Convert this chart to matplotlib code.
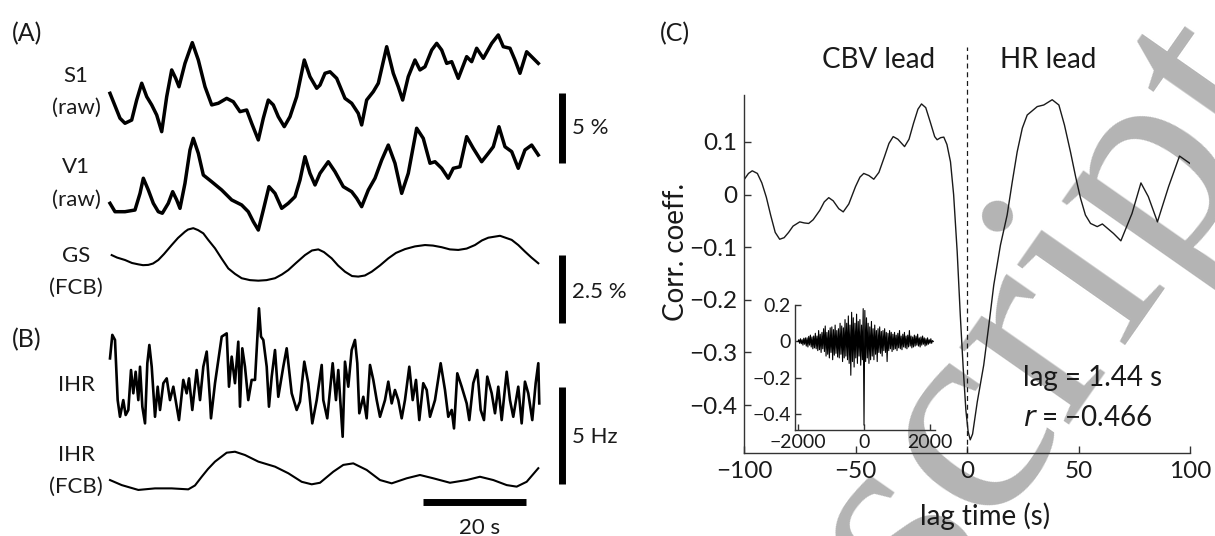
import numpy as np
import matplotlib
matplotlib.use("Agg")
import matplotlib.pyplot as plt

plt.rcParams['font.family'] = ['Lato', 'DejaVu Sans']

# ---- (A) raw CBV traces, time in s, signal in % ----
s1_t = [0.00, 1.94, 2.91, 4.21, 5.18, 6.16, 7.13, 8.10, 9.07, 10.04, 11.01, 11.98, 12.76,
        13.40, 14.56, 15.98, 17.15, 18.45, 19.75, 21.03, 22.66, 23.94, 25.24, 26.54, 27.51,
        28.80, 29.77, 30.74, 31.71, 32.68, 33.84, 34.95, 36.25, 37.73, 38.83, 40.14, 40.78,
        41.75, 42.72, 44.02, 45.63, 46.93, 48.21, 48.87, 49.84, 51.13, 52.10, 53.73, 55.01,
        55.98, 56.83, 57.92, 59.22, 60.19, 61.17, 62.47, 63.44, 64.41, 65.38, 66.35, 67.63,
        69.26, 70.23, 71.20, 72.49, 74.12, 75.40, 76.37, 77.67, 78.64, 79.61, 80.91, 82.19, 83.17]
s1_v = [0.12, -1.66, -2.02, -1.79, -0.36, 0.84, -0.12, -0.71, -1.43, -2.62, -0.12, 1.79, 1.19,
        0.59, 2.26, 3.74, 2.50, 0.59, -0.71, -0.59, -0.24, -0.48, -1.19, -1.07, -2.02,
        -3.21, -1.66, -0.36, -0.71, -1.55, -2.26, -1.55, -0.12, 2.50, 1.31, 0.48, 0.71,
        1.55, 1.66, 1.19, -0.24, -0.59, -1.31, -2.14, -0.36, 0.24, 0.84, 3.45, 1.55,
        0.59, -0.36, 1.31, 2.50, 1.79, 2.02, 3.21, 3.69, 3.21, 2.26, 2.38, 1.19,
        2.74, 2.38, 3.34, 2.62, 3.69, 4.29, 3.45, 3.34, 2.50, 1.55, 3.09, 2.62, 2.26]

v1_t = [0.00, 0.97, 2.91, 4.85, 5.83, 6.47, 7.44, 8.41, 9.38, 10.16, 11.32, 12.17, 12.95,
        13.59, 14.56, 15.53, 16.17, 17.15, 18.12, 19.75, 21.69, 23.63, 25.57, 26.85, 27.83,
        28.80, 29.77, 30.87, 32.04, 33.34, 34.62, 35.92, 36.89, 37.86, 38.83, 39.81, 40.78,
        42.39, 43.69, 45.30, 46.93, 47.90, 48.87, 50.16, 51.46, 52.76, 54.04, 55.34, 56.64,
        57.92, 59.55, 60.83, 62.14, 63.11, 64.41, 65.69, 66.66, 67.96, 69.26, 70.54, 72.17,
        73.46, 74.43, 75.53, 76.70, 78.00, 79.28, 80.58, 81.88, 83.17]
v1_v = [-0.95, -1.55, -1.55, -1.43, -0.24, 0.84, 0.00, -0.95, -1.55, -1.66, -0.95, -0.12, -0.71,
        -1.31, 0.48, 2.86, 3.69, 2.62, 1.07, 0.59, 0.00, -0.71, -1.07, -1.55, -2.26,
        -2.86, -1.43, 0.24, -0.24, -1.31, -0.95, -0.48, 0.71, 2.38, 1.19, 0.36, 1.19,
        2.02, 1.31, 0.24, -0.12, -0.59, -1.19, 0.00, 0.84, 2.14, 3.21, 1.91, -0.24,
        1.19, 4.41, 3.69, 1.91, 2.02, 1.55, 0.84, 1.55, 1.66, 3.81, 2.98, 2.02,
        2.62, 3.09, 4.52, 3.09, 2.74, 1.55, 2.86, 3.21, 2.50]

# global signal after band-pass (%)
gs_t = [0.33, 1.36, 2.91, 4.27, 5.50, 6.41, 7.44, 8.35, 9.38, 10.49, 11.98, 13.20, 14.56,
        15.15, 16.17, 17.09, 18.12, 19.03, 20.39, 21.65, 22.97, 24.27, 25.57, 27.18, 28.80,
        30.39, 32.04, 33.40, 34.62, 36.12, 37.86, 39.22, 40.45, 41.55, 43.05, 44.27, 45.63,
        47.00, 48.21, 49.50, 50.82, 52.43, 54.04, 55.53, 57.28, 59.22, 61.17, 62.72, 64.41,
        66.00, 67.63, 69.26, 70.87, 72.23, 73.46, 75.73, 78.00, 79.28, 80.58, 81.84, 83.17]
gs_v = [0.18, 0.09, 0.00, -0.11, -0.16, -0.19, -0.18, -0.13, 0.00, 0.22, 0.55, 0.81, 1.04,
        1.12, 1.17, 1.10, 0.98, 0.75, 0.43, 0.06, -0.31, -0.51, -0.67, -0.74, -0.76,
        -0.74, -0.67, -0.53, -0.37, -0.11, 0.18, 0.35, 0.39, 0.29, 0.06, -0.20, -0.43,
        -0.59, -0.61, -0.57, -0.43, -0.20, 0.06, 0.26, 0.40, 0.50, 0.55, 0.53, 0.47,
        0.39, 0.37, 0.42, 0.55, 0.72, 0.82, 0.89, 0.74, 0.55, 0.31, 0.09, -0.12]

# ---- (B) instantaneous heart rate (Hz) ----
ihr_t = [0.00, 0.45, 0.97, 1.49, 1.94, 2.58, 3.04, 3.56, 4.08, 4.53, 4.98, 5.50, 5.83, 6.28,
         6.80, 7.25, 7.64, 8.10, 8.74, 9.26, 9.71, 10.36, 11.01, 11.65, 12.30, 12.95, 13.40,
         14.23, 14.89, 15.34, 15.98, 16.83, 17.48, 18.12, 18.78, 19.42, 19.61, 20.39, 21.03,
         21.69, 22.66, 23.11, 23.63, 24.27, 24.91, 25.24, 25.69, 26.21, 26.85, 27.51, 28.16,
         28.93, 29.32, 29.77, 30.43, 30.87, 31.40, 32.04, 32.68, 33.65, 34.31, 35.28, 36.25,
         36.89, 37.73, 38.50, 39.28, 40.14, 41.11, 41.42, 42.19, 43.24, 43.88, 44.33, 45.18,
         45.63, 46.27, 46.93, 47.57, 48.02, 48.41, 49.19, 49.84, 50.49, 51.13, 51.79, 52.43,
         53.40, 54.04, 54.70, 55.34, 55.98, 56.64, 57.28, 58.12, 58.78, 59.42, 60.06, 60.83,
         61.50, 62.14, 63.11, 64.21, 65.05, 65.69, 66.35, 66.80, 67.44, 68.29, 69.26, 69.77,
         70.54, 71.32, 71.98, 72.62, 73.26, 74.12, 74.76, 75.40, 76.06, 77.03, 77.67, 78.31,
         79.28, 79.94, 80.58, 81.22, 82.00, 82.66, 83.17, 83.36]
ihr_v = [1.63, 2.84, 2.58, -0.52, -1.38, -0.52, -1.29, -1.03, 1.03, -0.17, 0.94, -0.52, 1.20, -0.86,
         -1.72, 1.38, 2.32, 1.20, -1.38, 0.17, -1.03, 0.35, 0.60, -0.52, 0.17, -0.86, -1.55,
         0.52, -0.17, 0.60, -1.03, 1.03, -0.52, 1.20, 1.98, -0.52, -1.46, 0.35, 1.55,
         2.75, 2.92, 0.17, 1.72, 0.35, 2.49, -0.86, 2.15, 1.20, -0.52, 0.52, 0.52,
         4.21, 2.75, 2.58, 1.20, -0.86, 0.69, 2.06, -0.35, 1.20, 2.15, -0.17, -1.03,
         -0.60, 1.46, 0.35, -1.72, -0.52, 1.29, -0.52, -1.46, 1.38, -0.52, 1.03, -2.41,
         1.46, 0.17, 2.06, 2.58, 1.38, -1.20, -0.35, -1.46, 1.29, 0.52, -0.52, -1.38,
         -0.52, 0.43, -0.69, 0.00, -0.52, -1.46, -0.52, 1.20, -0.52, 0.52, -1.55, 0.35,
         0.00, -1.38, -0.52, 1.38, 0.00, -1.38, -1.03, -1.98, 0.86, 0.17, -0.69, -1.55,
         0.35, 1.03, -1.03, -1.55, 0.69, -0.17, -1.20, 0.17, -1.55, 0.94, -0.52, -1.38,
         0.17, -1.72, 0.43, -0.17, -1.55, 0.35, 1.38, -0.69]

ihr_fcb_t = [0.00, 2.27, 5.50, 8.74, 11.98, 15.20, 16.50, 17.81, 19.03, 20.39, 22.66, 24.27,
             26.21, 28.80, 32.04, 34.62, 37.22, 39.17, 40.78, 43.36, 45.30, 47.24, 49.84,
             52.43, 54.70, 57.61, 60.19, 62.78, 66.02, 69.26, 71.84, 74.43, 77.03, 78.97,
             80.91, 83.17]
ihr_fcb_v = [-0.26, -0.52, -0.77, -0.69, -0.69, -0.74, -0.54, -0.09, 0.31, 0.69, 1.15, 1.20,
             1.03, 0.69, 0.43, 0.09, -0.35, -0.48, -0.40, 0.17, 0.52, 0.60, 0.26,
             -0.26, -0.43, -0.17, 0.00, -0.17, -0.40, -0.26, -0.09, -0.26, -0.52, -0.60,
             -0.35, 0.35]

# ---- (C) cross-correlation GS vs IHR ----
lag_s = [-100, -98, -96.3, -94, -92, -90, -88, -86, -84, -82, -80, -78, -75, -73, -71, -69,
         -66, -64, -62, -60, -57.5, -55.5, -53, -50, -48, -46.3, -44, -41.8, -39.5, -37, -35,
         -33.1, -31, -28, -26, -24, -22, -20.4, -18.5, -16.5, -14.5, -13.4, -11.8, -10.4, -9,
         -7.4, -6, -4.4, -3, -1.7, -0.5, 0.5, 1.44, 2.5, 4.6, 7.5, 9.8, 12, 15, 18, 20.3, 22.5,
         24.8, 27, 31.5, 34.4, 38.2, 41.2, 43.7, 46.4, 48.7, 50.9, 53.1, 55.4, 58.4, 60.7,
         65.7, 69, 74, 78, 81.3, 85.4, 90.4, 95.3, 100]
corr = [0.028, 0.040, 0.045, 0.040, 0.022, -0.005, -0.040, -0.072, -0.085, -0.082, -0.072,
        -0.060, -0.052, -0.054, -0.055, -0.048, -0.030, -0.014, -0.006, -0.012, -0.027,
        -0.033, -0.018, 0.015, 0.033, 0.040, 0.036, 0.029, 0.042, 0.072, 0.097, 0.110,
        0.105, 0.091, 0.105, 0.135, 0.162, 0.172, 0.165, 0.138, 0.110, 0.104, 0.108, 0.109,
        0.095, 0.062, 0.000, -0.109, -0.230, -0.330, -0.410, -0.450, -0.466, -0.455, -0.394,
        -0.324, -0.248, -0.172, -0.096, -0.039, 0.024, 0.081, 0.126, 0.151, 0.167, 0.170,
        0.180, 0.170, 0.132, 0.081, 0.034, -0.007, -0.039, -0.055, -0.061, -0.056, -0.074,
        -0.088, -0.036, 0.022, -0.004, -0.052, 0.015, 0.073, 0.059]

# full-length correlation (inset), lags -2000..2100 s every 25 s
inset_lag = np.arange(-2000, 2101, 25)
inset_corr = [0.00, 0.01, -0.01, 0.015, -0.012, 0.01, -0.02, 0.018, -0.015, 0.02,
              -0.025, 0.02, -0.03, 0.028, -0.02, 0.035, -0.03, 0.025, -0.04, 0.03,
              -0.035, 0.045, -0.04, 0.03, -0.05, 0.06, -0.045, 0.04, -0.06, 0.05,
              -0.04, 0.07, -0.055, 0.085, -0.08, 0.05, -0.07, 0.06, -0.09, 0.075,
              -0.06, 0.08, -0.10, 0.065, -0.075, 0.09, -0.065, 0.06, -0.085, 0.07,
              -0.09, 0.10, -0.07, 0.085, -0.11, 0.075, -0.09, 0.12, -0.08, 0.10,
              -0.10, 0.14, -0.12, 0.09, -0.185, 0.16, -0.11, 0.13, -0.14, 0.10,
              -0.09, 0.15, -0.12, 0.11, -0.08, 0.12, -0.13, 0.09, -0.10, 0.18,
              -0.458,
              0.17, -0.11, 0.13, -0.09, 0.10, -0.12, 0.08, -0.10, 0.11,
              -0.08, 0.07, -0.10, 0.09, -0.07, 0.06, -0.11, 0.07, -0.06, 0.08,
              -0.065, 0.055, -0.08, 0.06, -0.05, 0.07, -0.06, 0.05, -0.11, 0.045,
              -0.05, 0.06, -0.04, 0.05, -0.055, 0.04, -0.045, 0.05, -0.04, 0.035,
              -0.05, 0.045, -0.035, 0.06, -0.04, 0.03, -0.045, 0.04, -0.03, 0.05,
              -0.035, 0.03, -0.04, 0.035, -0.03, 0.06, -0.025, 0.03, -0.035, 0.025,
              -0.03, 0.035, -0.025, 0.03, -0.02, 0.04, -0.025, 0.02, -0.03, 0.025,
              -0.02, 0.03, -0.015, 0.02, -0.025, 0.015, -0.02, 0.02, -0.015, 0.01,
              -0.01, 0.015, -0.01, 0.005, 0.0]

W, H = 1215, 536
fig = plt.figure(figsize=(W / 100, H / 100), dpi=100)
INK = '#1a1a1a'


def box(x0, x1, y_top, y_bot):
    # pixel rectangle -> figure fraction
    return [x0 / W, 1 - y_bot / H, (x1 - x0) / W, (y_bot - y_top) / H]


def ftext(px, py, s, **kw):
    return fig.text(px / W, 1 - py / H, s, color=INK, **kw)


T_END = 83.17


def trace_ax(y_top, y_bot, y0, ppu):
    ax = fig.add_axes(box(110, 538.3, y_top, y_bot))
    ax.set_xlim(0, T_END)
    ax.set_ylim((y0 - y_bot) / ppu, (y0 - y_top) / ppu)
    ax.axis('off')
    ax.patch.set_alpha(0)
    return ax


ax_s1 = trace_ax(30, 145, 95, 14.0)
ax_v1 = trace_ax(120, 235, 190, 14.0)
ax_gs = trace_ax(225, 330, 260, 27.2)
ax_ihr = trace_ax(300, 440, 390, 19.4)
ax_fcb = trace_ax(445, 510, 475, 19.4)

ax_s1.plot(s1_t, s1_v, color='k', lw=2.5, clip_on=False)
ax_v1.plot(v1_t, v1_v, color='k', lw=2.5, clip_on=False)
ax_gs.plot(gs_t, gs_v, color='k', lw=1.5, clip_on=False)
ax_ihr.plot(ihr_t, ihr_v, color='k', lw=1.9, clip_on=False)
ax_fcb.plot(ihr_fcb_t, ihr_fcb_v, color='k', lw=1.5, clip_on=False)

# scale bars
BAR_T = 87.86
bar_kw = dict(color='k', lw=5.0, solid_capstyle='butt', clip_on=False)
ax_s1.plot([BAR_T, BAR_T], [-4.857, 0.143], **bar_kw)
ax_gs.plot([BAR_T, BAR_T], [-2.316, 0.184], **bar_kw)
ax_ihr.plot([BAR_T, BAR_T], [-4.845, 0.155], **bar_kw)
ax_fcb.plot([60.78, 80.78], [-1.366, -1.366], **bar_kw)

lab = dict(size=16, va='center')
ax_s1.text(89.7, -2.36, '5 %', color=INK, clip_on=False, **lab)
ax_gs.text(89.7, -1.18, '2.5 %', color=INK, clip_on=False, **lab)
ax_ihr.text(89.7, -2.4, '5 Hz', color=INK, clip_on=False, **lab)
ftext(480, 528, '20 s', ha='center', **lab)

for py, s in [(76, 'S1'), (108, '(raw)'), (167, 'V1'), (200, '(raw)'), (256, 'GS'),
              (288, '(FCB)'), (385, 'IHR'), (455, 'IHR'), (487, '(FCB)')]:
    ftext(76, py, s, ha='center', **lab)
ftext(12, 34, '(A)', size=18, va='center')
ftext(12, 340, '(B)', size=18, va='center')
ftext(660, 34, '(C)', size=18, va='center')

# ---- panel C axes ----
ax = fig.add_axes(box(744, 1190, 95, 453))
ax.set_facecolor('none')
ax.plot(lag_s, corr, color=INK, lw=1.0)
ax.plot([0, 0], [-0.491, 0.28], color=INK, lw=0.9, ls=(0, (4, 3)), clip_on=False)
ax.set_xlim(-100, 100)
ax.set_ylim(-0.491, 0.189)
for side in ('top', 'right'):
    ax.spines[side].set_visible(False)
for side in ('left', 'bottom'):
    ax.spines[side].set_linewidth(1.0)
    ax.spines[side].set_color('#333333')
ax.set_xticks([-100, -50, 0, 50, 100])
ax.set_xticklabels(['\u2212100', '\u221250', '0', '50', '100'])
ax.set_yticks([-0.4, -0.3, -0.2, -0.1, 0, 0.1])
ax.set_yticklabels(['\u22120.4', '\u22120.3', '\u22120.2', '\u22120.1', '0', '0.1'])
ax.tick_params(direction='in', length=5, width=1.0, colors='#333333',
               labelsize=17.5, labelcolor=INK)
ax.tick_params(axis='x', pad=6)
ax.tick_params(axis='y', pad=5)

ftext(676, 252, 'Corr. coeff.', size=20, rotation=90, ha='center', va='center')
ftext(985, 516, 'lag time (s)', size=20, ha='center', va='center')
ftext(879, 60, 'CBV lead', size=20, ha='center', va='center')
ftext(1048, 60, 'HR lead', size=20, ha='center', va='center')
ftext(1023, 378, 'lag = 1.44 s', size=20, ha='left', va='center')
ftext(1023, 418, '$r$ = \u22120.466', size=20, ha='left', va='center',
      math_fontfamily='dejavusans')

# inset: whole lag range
axi = fig.add_axes(box(795, 935, 305, 430))
axi.set_facecolor('none')
axi.plot(inset_lag, inset_corr, color='k', lw=0.8)
axi.set_xlim(-2091, 2151)
axi.set_ylim(-0.485, 0.2)
for side in ('top', 'right'):
    axi.spines[side].set_visible(False)
for side in ('left', 'bottom'):
    axi.spines[side].set_linewidth(1.0)
    axi.spines[side].set_color('#333333')
axi.set_xticks([-2000, 0, 2000])
axi.set_xticklabels(['\u22122000', '0', '2000'])
axi.set_yticks([-0.4, -0.2, 0, 0.2])
axi.set_yticklabels(['\u22120.4', '\u22120.2', '0', '0.2'])
axi.tick_params(direction='in', length=4, width=1.0, colors='#333333',
                labelsize=14, labelcolor=INK, pad=3)

# watermark behind panel C
fig.text(1050 / W, 1 - 312 / H, 'script', family='Liberation Serif', size=210,
         rotation=55, color='#b4b4b4', ha='center', va='center',
         rotation_mode='anchor', zorder=-1)

fig.savefig('out.png', dpi=100)
